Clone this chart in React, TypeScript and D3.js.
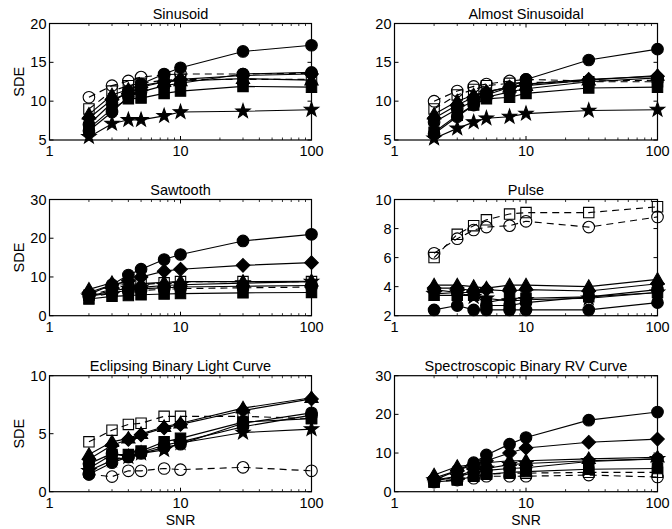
import React from "react";
import * as d3 from "d3";

const snr = [2, 3, 4, 5, 7.5, 10, 30, 100];
const xTickValues = [1, 10, 100];
const panelTitles = [
  "Sinusoid",
  "Almost Sinusoidal",
  "Sawtooth",
  "Pulse",
  "Eclipsing Binary Light Curve",
  "Spectroscopic Binary RV Curve",
];
const yDomains = [[5, 20], [5, 20], [0, 30], [2, 10], [0, 10], [0, 30]];
const yTickLists = [
  [5, 10, 15, 20],
  [5, 10, 15, 20],
  [0, 10, 20, 30],
  [2, 4, 6, 8, 10],
  [0, 5, 10],
  [0, 10, 20, 30],
];
// series order: open circle (dashed), open square (dashed), then filled markers
const seriesMarkers = ["ocircle", "osquare", "square", "star", "circle2", "diamond", "triangle", "circle"];
const seriesDashed = [true, true, false, false, false, false, false, false];

const sinusoid = [
  [10.5, 12.0, 12.6, 13.1, 13.4, 13.5, 13.5, 13.6],
  [9.0, 11.3, 12.0, 12.3, 12.7, 12.8, 12.8, 12.8],
  [6.5, 9.0, 10.3, 10.4, 11.0, 11.3, 11.9, 11.8],
  [5.4, 7.1, 7.6, 7.6, 8.1, 8.6, 8.7, 8.9],
  [6.2, 8.6, 10.6, 11.2, 12.0, 12.3, 13.5, 13.7],
  [7.8, 10.2, 11.0, 11.8, 12.5, 12.8, 13.3, 13.5],
  [8.3, 10.8, 11.5, 12.0, 12.5, 12.6, 12.9, 12.7],
  [7.0, 9.8, 11.3, 12.2, 13.5, 14.3, 16.4, 17.2],
];
const almostSinusoidal = [
  [10.0, 11.3, 11.9, 12.2, 12.6, 12.8, 12.6, 12.7],
  [9.0, 10.8, 11.5, 12.0, 12.3, 12.4, 12.5, 12.5],
  [6.0, 8.2, 9.5, 10.3, 10.5, 11.0, 11.7, 11.8],
  [5.2, 6.5, 7.3, 7.8, 8.0, 8.4, 8.8, 8.9],
  [5.8, 8.0, 9.5, 10.5, 11.2, 11.6, 12.5, 13.0],
  [7.8, 9.5, 10.5, 11.2, 11.8, 12.2, 12.8, 13.2],
  [8.3, 10.0, 10.8, 11.2, 11.8, 12.0, 12.7, 13.3],
  [7.3, 9.0, 10.0, 10.8, 11.8, 12.8, 15.3, 16.7],
];
const sawtooth = [
  [4.8, 5.8, 6.3, 6.5, 6.8, 7.0, 7.2, 7.4],
  [5.3, 6.8, 7.5, 8.0, 8.5, 8.8, 8.8, 8.8],
  [4.3, 5.0, 5.2, 5.4, 5.6, 5.7, 5.9, 6.0],
  [5.0, 6.5, 7.0, 7.3, 7.8, 8.0, 8.4, 8.8],
  [5.0, 6.0, 6.5, 7.0, 7.2, 7.4, 7.6, 7.8],
  [6.0, 8.0, 9.0, 10.0, 11.5, 12.0, 13.0, 13.7],
  [6.8, 8.5, 8.0, 8.3, 8.6, 8.8, 8.8, 8.9],
  [5.5, 8.0, 10.5, 12.0, 14.5, 15.8, 19.3, 21.0],
];
const pulse = [
  [6.3, 7.3, 7.9, 8.1, 8.2, 8.5, 8.1, 8.8],
  [6.0, 7.6, 8.2, 8.6, 9.0, 9.1, 9.1, 9.5],
  [3.4, 3.4, 3.4, 2.9, 3.2, 3.2, 3.3, 3.6],
  [3.5, 3.6, 3.3, 3.2, 3.0, 3.1, 3.2, 3.6],
  [3.8, 3.6, 3.6, 2.7, 2.7, 2.9, 3.3, 3.8],
  [3.9, 3.9, 3.7, 3.8, 3.7, 3.8, 3.7, 4.2],
  [4.1, 4.1, 4.0, 3.9, 4.1, 4.1, 4.0, 4.5],
  [2.4, 2.7, 2.4, 2.4, 2.4, 2.4, 2.4, 2.9],
];
const eclipsingBinary = [
  [1.5, 1.3, 1.8, 1.8, 2.0, 1.9, 2.1, 1.8],
  [4.3, 5.3, 5.8, 5.9, 6.5, 6.5, 6.5, 6.3],
  [2.0, 3.2, 3.2, 3.5, 4.3, 4.6, 6.0, 6.3],
  [1.8, 2.7, 3.0, 3.3, 3.6, 4.2, 5.1, 5.4],
  [2.4, 3.3, 3.0, 3.4, 4.0, 4.3, 5.6, 6.6],
  [2.8, 4.0, 4.5, 4.9, 5.5, 5.8, 7.0, 8.0],
  [3.2, 4.3, 4.6, 5.0, 5.6, 5.9, 7.2, 8.1],
  [1.5, 2.5, 3.0, 3.3, 3.8, 4.1, 5.9, 6.8],
];
const spectroscopicBinary = [
  [2.5, 3.0, 3.5, 4.0, 4.0, 4.0, 4.3, 3.8],
  [2.5, 3.3, 4.0, 4.5, 4.8, 4.8, 5.0, 5.0],
  [2.5, 3.0, 4.0, 4.5, 5.0, 5.2, 5.8, 6.0],
  [3.0, 4.0, 5.5, 6.0, 7.0, 7.3, 8.0, 8.5],
  [2.8, 3.8, 5.0, 5.5, 6.0, 6.2, 7.8, 8.5],
  [3.5, 5.5, 7.0, 8.0, 10.0, 11.3, 12.8, 13.6],
  [4.3, 6.5, 7.0, 7.5, 8.0, 8.0, 8.5, 8.9],
  [3.0, 5.5, 7.5, 9.5, 12.3, 14.0, 18.5, 20.6],
];
const panelData = [sinusoid, almostSinusoidal, sawtooth, pulse, eclipsingBinary, spectroscopicBinary];

const FONT = "'Liberation Sans', Arial, Helvetica, sans-serif";
const colX = [[49.5, 311.5], [394.5, 657.5]];
const rowY = [[23.5, 140], [199.5, 315.7], [375.7, 491.7]];

function markerPath(kind: string): { d: string; filled: boolean } {
  switch (kind) {
    case "circle":
    case "circle2":
      return { d: d3.symbol(d3.symbolCircle, Math.PI * 5.8 * 5.8)() as string, filled: true };
    case "ocircle":
      return { d: d3.symbol(d3.symbolCircle, Math.PI * 5.8 * 5.8)() as string, filled: false };
    case "square":
      return { d: "M-5.2,-5.2H5.2V5.2H-5.2Z", filled: true };
    case "osquare":
      return { d: "M-5.2,-5.2H5.2V5.2H-5.2Z", filled: false };
    case "diamond":
      return { d: "M0,-6.8L6.8,0L0,6.8L-6.8,0Z", filled: true };
    case "triangle":
      return { d: "M0,-6.8L6.6,4.7L-6.6,4.7Z", filled: true };
    case "star": {
      const pts: string[] = [];
      for (let i = 0; i < 10; i++) {
        const r = i % 2 === 0 ? 7.5 : 3.0;
        const a = -Math.PI / 2 + (i * Math.PI) / 5;
        pts.push(`${(r * Math.cos(a)).toFixed(2)},${(r * Math.sin(a)).toFixed(2)}`);
      }
      return { d: "M" + pts.join("L") + "Z", filled: true };
    }
  }
  return { d: "", filled: true };
}

function Panel({ idx }: { idx: number }) {
  const col = idx % 2;
  const row = Math.floor(idx / 2);
  const [x0, x1] = colX[col];
  const [y0, y1] = rowY[row];
  const x = d3.scaleLog().domain([1, 100]).range([x0, x1]);
  const y = d3.scaleLinear().domain(yDomains[idx]).range([y1, y0]);
  const minor: number[] = [];
  for (let d = 1; d <= 10; d *= 10) for (let k = 2; k <= 9; k++) minor.push(d * k);
  const line = d3
    .line<number>()
    .x((_, i) => x(snr[i]))
    .y((v) => y(v));
  const data = panelData[idx];
  return (
    <g>
      <text x={(x0 + x1) / 2} y={y0 - 5} textAnchor="middle" fontSize={14.5} fontFamily={FONT}>
        {panelTitles[idx]}
      </text>
      {data.map((vals, s) => {
        const m = markerPath(seriesMarkers[s]);
        return (
          <g key={s}>
            <path
              d={line(vals) as string}
              fill="none"
              stroke="#000"
              strokeWidth={1.15}
              strokeDasharray={seriesDashed[s] ? "7,5" : undefined}
            />
            {vals.map((v, i) => (
              <path
                key={i}
                d={m.d}
                transform={`translate(${x(snr[i])},${y(v)})`}
                fill={m.filled ? "#000" : "none"}
                stroke="#000"
                strokeWidth={1.1}
              />
            ))}
          </g>
        );
      })}
      <rect x={x0} y={y0} width={x1 - x0} height={y1 - y0} fill="none" stroke="#000" strokeWidth={1.2} />
      {xTickValues.map((t) => (
        <g key={"xt" + t}>
          <line x1={x(t)} x2={x(t)} y1={y1} y2={y1 - 4} stroke="#000" />
          <line x1={x(t)} x2={x(t)} y1={y0} y2={y0 + 4} stroke="#000" />
          <text x={x(t)} y={y1 + 16} textAnchor="middle" fontSize={14.5} fontFamily={FONT}>
            {t}
          </text>
        </g>
      ))}
      {minor.map((t) => (
        <g key={"mt" + t}>
          <line x1={x(t)} x2={x(t)} y1={y1} y2={y1 - 2.5} stroke="#000" strokeWidth={0.8} />
          <line x1={x(t)} x2={x(t)} y1={y0} y2={y0 + 2.5} stroke="#000" strokeWidth={0.8} />
        </g>
      ))}
      {yTickLists[idx].map((t) => (
        <g key={"yt" + t}>
          <line x1={x0} x2={x0 + 4} y1={y(t)} y2={y(t)} stroke="#000" />
          <line x1={x1} x2={x1 - 4} y1={y(t)} y2={y(t)} stroke="#000" />
          <text x={x0 - 3} y={y(t) + 5} textAnchor="end" fontSize={14.5} fontFamily={FONT}>
            {t}
          </text>
        </g>
      ))}
      {col === 0 && (
        <text
          transform={`translate(24,${(y0 + y1) / 2}) rotate(-90)`}
          textAnchor="middle"
          fontSize={14.5}
          fontFamily={FONT}
        >
          SDE
        </text>
      )}
      {row === 2 && (
        <text x={(x0 + x1) / 2} y={524.5} textAnchor="middle" fontSize={14} fontFamily={FONT}>
          SNR
        </text>
      )}
    </g>
  );
}

export default function App() {
  return (
    <svg
      width={672}
      height={529}
      style={{ position: "absolute", left: 0, top: 0, background: "#fff" }}
    >
      <rect width={672} height={529} fill="#fff" />
      {panelTitles.map((_, i) => (
        <Panel key={i} idx={i} />
      ))}
    </svg>
  );
}
